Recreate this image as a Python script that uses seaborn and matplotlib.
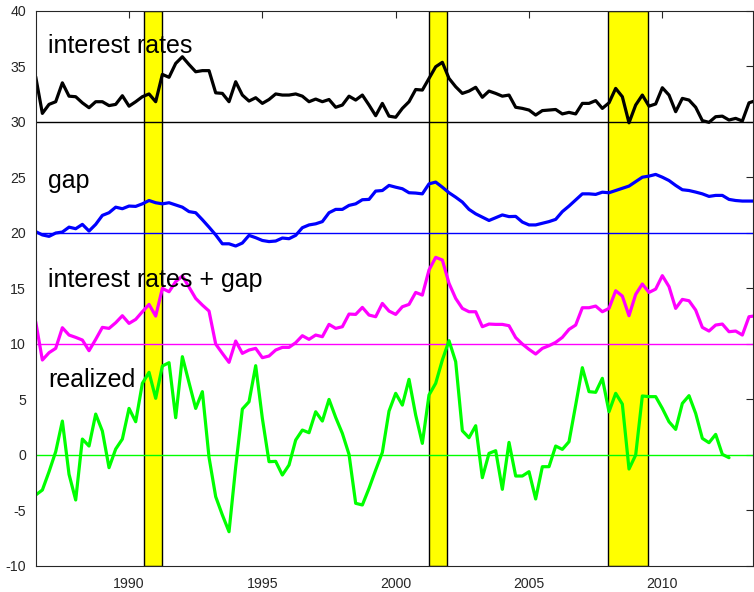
import numpy as np
import pandas as pd
import matplotlib
matplotlib.use("Agg")
import matplotlib.pyplot as plt
import seaborn as sns

# ---------------- data (quarterly, starting 1986Q3) ----------------
start_year = 1986.5
step = 0.25

interest_rates = [4.05, 0.75, 1.56, 1.8, 3.5, 2.3, 2.25, 1.7, 1.26, 1.8,
                  1.8, 1.45, 1.56, 2.34, 1.4, 1.8, 2.25, 2.5, 1.8, 4.26,
                  4.0, 5.25, 5.85, 5.15, 4.5, 4.6, 4.6, 2.6, 2.55, 1.8,
                  3.6, 2.4, 1.86, 2.16, 1.65, 2.0, 2.5, 2.4, 2.4, 2.5,
                  2.3, 1.8, 2.04, 1.8, 2.0, 1.3, 1.5, 2.3, 1.95, 2.4,
                  1.5, 0.54, 1.65, 0.5, 0.4, 1.2, 1.8, 2.9, 2.85, 3.9,
                  4.95, 5.35, 3.9, 3.15, 2.55, 2.76, 3.1, 2.2, 2.76, 2.55,
                  2.3, 2.4, 1.3, 1.2, 1.05, 0.6, 1.0, 1.05, 1.1, 0.7,
                  0.84, 0.7, 1.65, 1.65, 1.9, 1.2, 1.7, 3.0, 2.25, -0.1,
                  1.5, 2.4, 1.4, 1.6, 3.06, 2.4, 0.9, 2.1, 1.95, 1.3,
                  0.1, -0.06, 0.45, 0.5, 0.15, 0.3, 0.06, 1.7, 1.9]

gap = [0.1, -0.2, -0.33, -0.03, 0.06, 0.5, 0.36, 0.75, 0.15, 0.75,
       1.56, 1.8, 2.3, 2.16, 2.4, 2.37, 2.6, 2.9, 2.7, 2.6,
       2.7, 2.5, 2.3, 1.9, 1.8, 1.17, 0.5, -0.2, -1.0, -1.0,
       -1.2, -0.93, -0.24, -0.45, -0.7, -0.8, -0.75, -0.48, -0.54, -0.24,
       0.45, 0.7, 0.8, 1.0, 1.8, 2.1, 2.1, 2.46, 2.6, 2.97,
       3.0, 3.75, 3.8, 4.26, 4.1, 3.96, 3.6, 3.57, 3.5, 4.4,
       4.56, 4.1, 3.6, 3.2, 2.76, 2.1, 1.7, 1.4, 1.1, 1.35,
       1.6, 1.45, 1.47, 0.96, 0.7, 0.7, 0.85, 1.0, 1.2, 1.9,
       2.4, 2.95, 3.5, 3.5, 3.45, 3.65, 3.6, 3.8, 4.0, 4.2,
       4.6, 5.0, 5.1, 5.25, 5.0, 4.7, 4.26, 3.87, 3.8, 3.66,
       3.5, 3.27, 3.36, 3.36, 3.0, 2.9, 2.85, 2.85, 2.85]

rates_plus_gap = [1.98, -1.47, -0.81, -0.42, 1.44, 0.78, 0.57, 0.33, -0.63, 0.39,
                  1.47, 1.38, 1.89, 2.52, 1.83, 2.19, 2.88, 3.54, 2.49, 4.98,
                  4.68, 5.59, 6.1, 5.1, 4.08, 3.48, 2.94, -0.03, -0.87, -1.68,
                  0.24, -0.87, -0.57, -0.42, -1.26, -1.11, -0.57, -0.33, -0.33, 0.09,
                  0.72, 0.39, 0.78, 0.63, 1.74, 1.38, 1.53, 2.67, 2.64, 3.27,
                  2.58, 2.43, 3.63, 2.94, 2.64, 3.33, 3.54, 4.62, 4.38, 6.64,
                  7.78, 7.54, 5.44, 4.08, 3.18, 2.88, 2.88, 1.53, 1.77, 1.74,
                  1.74, 1.62, 0.55, -0.03, -0.51, -0.93, -0.42, -0.18, 0.12, 0.57,
                  1.29, 1.68, 3.24, 3.24, 3.39, 2.88, 3.18, 4.77, 4.29, 2.52,
                  4.44, 5.38, 4.62, 4.92, 6.13, 5.14, 3.18, 3.99, 3.87, 3.03,
                  1.47, 1.14, 1.68, 1.77, 1.08, 1.14, 0.78, 2.43, 2.52]

realized = [-3.63, -3.18, -1.53, 0.27, 3.03, -1.77, -4.08, 1.41, 0.78, 3.66,
            2.13, -1.17, 0.51, 1.41, 4.17, 2.97, 6.43, 7.42, 5.08, 7.99,
            8.29, 3.33, 8.83, 6.49, 4.17, 5.68, -0.24, -3.78, -5.43, -6.94,
            -1.1, 4.11, 4.77, 8.02, 3.27, -0.63, -0.6, -1.83, -0.93, 1.32,
            2.22, 1.98, 3.87, 3.03, 4.98, 3.36, 1.92, 0.03, -4.38, -4.53,
            -3.03, -1.38, 0.21, 3.93, 5.53, 4.47, 6.79, 3.57, 1.02, 5.38,
            6.43, 8.53, 10.27, 8.38, 2.16, 1.53, 2.61, -2.07, 0.12, 0.36,
            -3.12, 1.11, -1.92, -1.92, -1.53, -3.99, -1.08, -1.08, 0.78, 0.48,
            1.17, 4.47, 7.84, 5.68, 5.62, 6.88, 3.87, 5.53, 4.56, -1.29,
            -0.03, 5.29, 5.23, 5.23, 4.17, 2.97, 2.28, 4.62, 5.32, 3.72,
            1.47, 1.08, 1.83, 0.03, -0.27]

series_names = ["interest rates", "gap", "interest rates + gap", "realized"]
series_values = [interest_rates, gap, rates_plus_gap, realized]
series_offsets = [30, 20, 10, 0]
series_colors = ["#000000", "#0000ff", "#ff00ff", "#00ff00"]
label_y = [36.2, 24.0, 15.15, 6.1]

recession_start = [1990.55, 2001.25, 2007.98]
recession_end = [1991.25, 2001.92, 2009.47]

x_ticks = [1990, 1995, 2000, 2005, 2010]
y_ticks = [-10, -5, 0, 5, 10, 15, 20, 25, 30, 35, 40]

# ---------------- plot ----------------
sns.set_style("white")
plt.rcParams["font.family"] = ["Liberation Sans", "DejaVu Sans"]
plt.rcParams["axes.unicode_minus"] = False

fig = plt.figure(figsize=(7.54, 5.92), dpi=100)
ax = fig.add_axes([35.7 / 754, 1 - 565.7 / 592, (753 - 35.7) / 754, (565.7 - 10.7) / 592])

for a, b in zip(recession_start, recession_end):
    ax.axvspan(a, b, facecolor="#ffff00", edgecolor="black", lw=1.0, zorder=1)

frames = []
for name, vals, off in zip(series_names, series_values, series_offsets):
    n = len(vals)
    frames.append(pd.DataFrame({
        "date": start_year + step * np.arange(n),
        "value": np.asarray(vals) + off,
        "series": name,
    }))
df = pd.concat(frames, ignore_index=True)

for name, col, off, ly in zip(series_names, series_colors, series_offsets, label_y):
    ax.axhline(off, color=col, lw=1.0, zorder=2)
    sub = df[df["series"] == name]
    sns.lineplot(data=sub, x="date", y="value", color=col, lw=2.3, ax=ax,
                 zorder=3, legend=False, estimator=None, sort=False)
    ax.text(1986.97, ly, name, fontsize=18, color="black", va="baseline",
            ha="left", zorder=4)

ax.set_xlim(1986.5, 2013.4)
ax.set_ylim(-10, 40)
ax.set_xticks(x_ticks)
ax.set_yticks(y_ticks)
ax.set_xlabel("")
ax.set_ylabel("")
ax.tick_params(direction="in", length=5, width=0.8, top=True, right=True,
               labelsize=10.2, colors="#262626", pad=7)
ax.tick_params(axis="x", pad=8)
for s in ax.spines.values():
    s.set_visible(True)
    s.set_color("#262626")
    s.set_linewidth(0.8)
    s.set_zorder(5)

fig.savefig("out.png", dpi=100)
